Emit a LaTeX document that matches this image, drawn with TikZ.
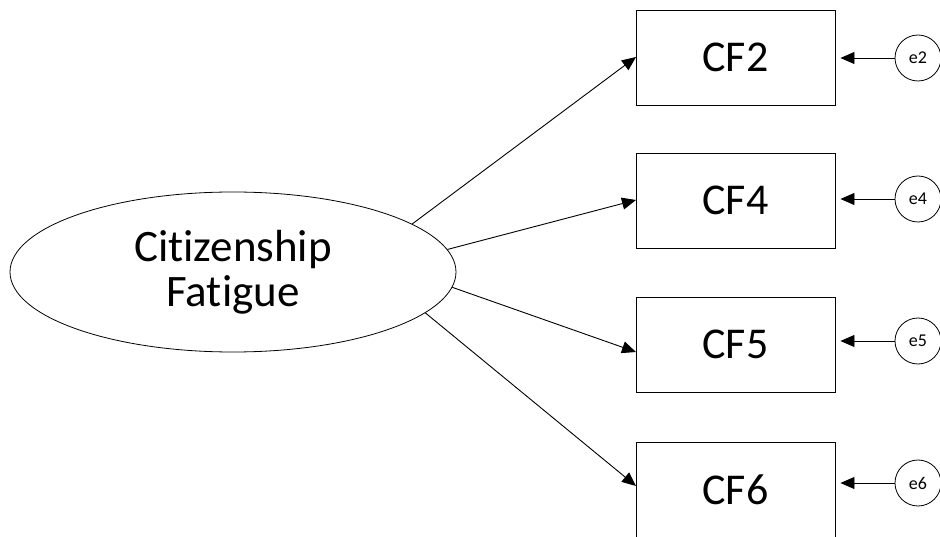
\documentclass[tikz,border=0pt]{standalone}
\usepackage{fontspec}
\setmainfont{Carlito}[Ligatures=CommonOff]
\usetikzlibrary{shapes.geometric,arrows.meta}

\tikzset{
  item/.style={draw, line width=0.9pt, minimum width=199pt, minimum height=95pt, inner sep=0pt, font=\fontsize{44}{46}\selectfont},
  err/.style={draw, line width=0.8pt, circle, minimum size=46pt, inner sep=0pt, font=\fontsize{18}{19}\selectfont},
  load/.style={line width=0.9pt, -{Triangle[length=14pt,width=12pt]}}
}

\begin{document}
\begin{tikzpicture}[x=1pt,y=-1pt]
\useasboundingbox (0,0) rectangle (940,537);
\clip (0,0) rectangle (940,537);
\node[draw, line width=0.8pt, ellipse, minimum width=446pt, minimum height=160pt, inner sep=0pt, align=center, font=\fontsize{45}{45}\selectfont] (cf) at (233,272) {Citizenship\\Fatigue};
\node[item] (cf2) at (735.5,57.5) {CF2};
\node[item] (cf4) at (735.5,200.5) {CF4};
\node[item] (cf5) at (735.5,344.5) {CF5};
\node[item] (cf6) at (735.5,489.5) {CF6};
\node[err] (e2) at (918,58) {e2};
\node[err] (e4) at (918,199) {e4};
\node[err] (e5) at (918,341) {e5};
\node[err] (e6) at (918,483) {e6};
\coordinate (t2) at (636,57);
\coordinate (t4) at (636,200);
\coordinate (t5) at (636,352);
\coordinate (t6) at (636,486);
\draw [load] (cf.15) -- (t2);
\draw [load] (cf.6.4) -- (t4);
\draw [load] (cf.-4.6) -- (t5);
\draw [load] (cf.-12.8) -- (t6);
\draw [load] (e2.west) -- ([xshift=5pt]cf2.east |- e2.west);
\draw [load] (e4.west) -- ([xshift=5pt]cf4.east |- e4.west);
\draw [load] (e5.west) -- ([xshift=5pt]cf5.east |- e5.west);
\draw [load] (e6.west) -- ([xshift=5pt]cf6.east |- e6.west);
\end{tikzpicture}
\end{document}
